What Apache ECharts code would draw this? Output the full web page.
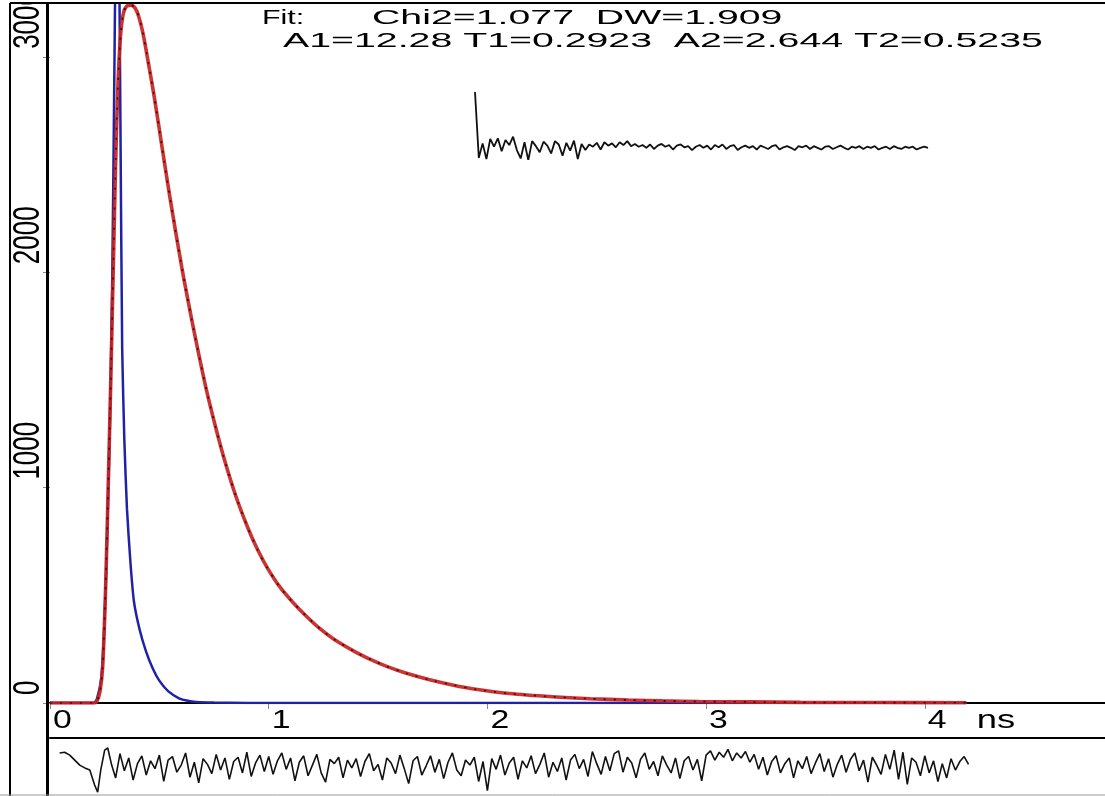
<!DOCTYPE html>
<html><head><meta charset="utf-8">
<script src="https://cdn.jsdelivr.net/npm/echarts@6/dist/echarts.min.js"></script>
<style>html,body{margin:0;padding:0;background:#fff}#c{width:1105px;height:796px}</style>
</head><body><div id="c"></div>
<script>
// ---- data ----
const decayTime   = [0,0.2,0.213,0.228,0.241,0.255,0.266,0.278,0.29,0.30,0.31,0.322,0.335,0.35,0.37,0.39,0.405,0.425,0.457,0.479,0.511,0.548,0.603,0.648,0.676,0.716,0.76,0.799,0.85,0.904,0.95,0.995,1.05,1.11,1.17,1.233,1.3,1.402,1.47,1.539,1.63,1.736,1.84,1.946,2.1,2.298,2.47,2.645,2.8,2.97,3.2,3.43,3.8,4.19];
const decayCounts = [0,0,5,50,170,560,1000,1500,2050,2500,2850,3090,3200,3235,3240,3225,3190,3110,2930,2800,2590,2350,2020,1780,1640,1450,1270,1125,960,815,710,625,540,468,405,346,295,234,200,170,138,108,84,64,44,29,20,14,10,7,5,3,2,1];
const irfTime   = [0,0.2,0.215,0.235,0.25,0.262,0.274,0.285,0.295,0.303,0.31,0.316,0.322,0.33,0.34,0.352,0.368,0.384,0.41,0.439,0.47,0.499,0.54,0.59,0.63,0.668,0.75,0.9,4.19];
const irfCounts = [0,0,20,120,400,800,1300,2000,3000,3800,3950,3500,2700,1650,1220,900,650,470,340,240,160,105,55,22,10,5,2,0,0];
const xTickValues = [0,1,2,3,4];
const yTickValues = [0,1000,2000,3000];
const resHeadTime = [0.044,0.067,0.09,0.113,0.136,0.159,0.182,0.204,0.218,0.232,0.25,0.264,0.282,0.30];
const resHead     = [1.9,2.0,1.6,0.9,0.2,-0.2,-0.5,-2.6,-3.6,-0.5,2.3,2.6,0.2,-1.6];
const resStart = 0.32, resStep = 0.02;
const resBody = [1.8,-0.6,1.2,-1.9,0.4,1.5,-1.2,0.8,-0.3,1.6,-2.1,0.9,1.4,-0.8,0.2,1.9,-1.5,0.6,-2.3,1.1,0.3,-1.0,1.7,-0.5,1.2,-1.8,0.7,1.3,-0.9,2.0,-1.4,0.5,1.6,-0.7,
 1.4,-1.1,0.8,1.9,-0.4,1.2,-2.0,0.6,1.5,-1.3,0.2,1.7,-0.9,-2.2,1.0,0.4,1.3,-1.6,0.9,-0.2,1.1,-1.4,0.7,1.8,-0.6,0.3,-1.9,1.2,0.5,-1.0,1.6,-0.3,-2.4,0.8,1.4,-1.2,0.1,1.5,-0.8,1.0,-1.7,0.6,1.9,-0.5,-1.3,0.9,0.2,1.3,-2.1,0.7,
 -3.4,1.1,-0.4,1.6,-1.2,0.5,1.3,-1.8,0.8,-0.2,1.5,-1.0,0.3,1.9,-1.5,0.6,-0.7,1.2,-1.9,0.9,1.7,-0.3,1.0,-1.4,2.1,0.4,-1.1,1.4,-0.6,1.8,2.2,-0.8,1.3,0.5,-1.6,1.0,1.9,-0.4,0.7,-1.3,1.5,0.2,-0.9,1.2,-1.7,0.8,1.4,-0.5,1.0,-2.0,
 1.6,2.2,0.9,2.0,1.3,2.4,0.8,1.9,1.2,2.1,0.6,1.7,-0.4,1.3,-1.2,0.7,1.5,-0.9,0.4,1.2,-1.6,0.8,-0.3,1.4,-1.0,0.5,1.8,-0.7,1.1,-1.5,0.3,1.6,-0.8,1.0,1.9,-0.6,0.9,-2.2,1.3,0.2,-1.1,1.7,-0.4,2.3,-1.8,2.0,-2.5,1.2,0.6,-1.3,1.5,-0.9,0.8,-2.1,0.4,-1.6,1.1,-0.5,0.7,1.4,0.3];
const acf = [1.0,-0.18,0.08,-0.2,0.16,0.02,0.17,-0.06,0.14,0.05,0.2,-0.04,-0.19,0.1,-0.22,0.12,0.03,-0.08,0.11,0.04,-0.1,0.12,0.06,-0.14,0.09,-0.05,0.13,-0.2,0.07,-0.04,
 0.06,0.02,0.09,-0.03,0.1,0.04,0.08,0.01,0.1,0.05,0.12,0.03,0.07,0.02,0.05,0.0,0.06,-0.02,0.04,0.07,0.02,0.05,-0.03,0.04,0.06,0.01,0.03,-0.04,0.02,0.05,
 0.0,0.04,-0.03,0.05,0.01,0.06,-0.02,0.03,0.05,-0.04,0.01,0.04,0.0,0.03,-0.03,0.04,0.01,-0.02,0.03,0.05,-0.03,0.01,0.03,0.0,-0.04,0.03,0.01,0.04,-0.02,0.03,
 0.0,-0.03,0.02,0.03,-0.02,0.01,0.04,0.0,-0.03,0.02,0.0,0.03,-0.02,0.02,0.0,0.03,-0.03,0.0,0.02,-0.02,0.03,0.0,-0.02,0.02,0.0,0.02,-0.03,0.0,0.02,0.0];
const fitTextA = 'Fit:';
const fitTextB = 'Chi2=1.077  DW=1.909';
const fitTextC = 'A1=12.28 T1=0.2923  A2=2.644 T2=0.5235';
const xUnit = 'ns';

// ---- build ----
const zip = (a, b) => a.map((v, i) => [v, b[i]]);
const resPairs = zip(resHeadTime, resHead).concat(resBody.map((v, i) => [resStart + i * resStep, v]));
const acfPairs = acf.map((v, i) => [i, v]);
const FONT = '"Liberation Sans", Arial, sans-serif';

const chart = echarts.init(document.getElementById('c'), null, {renderer: 'canvas'});
chart.setOption({
  animation: false,
  backgroundColor: '#fff',
  grid: [
    {left: 50, right: 0, top: 3, bottom: 93},
    {left: 50, right: 0, top: 738, bottom: 1},
    {left: 475, width: 453, top: 92, height: 67}
  ],
  xAxis: [
    {gridIndex: 0, type: 'value', min: 0, max: 4.824, interval: 1,
     axisLine: {onZero: false, lineStyle: {color: '#000', width: 2}},
     axisTick: {show: true, length: 6, lineStyle: {color: '#888'}},
     axisLabel: {show: false},
     splitLine: {show: false}},
    {gridIndex: 1, type: 'value', min: 0, max: 4.824, position: 'top',
     axisLine: {onZero: false, lineStyle: {color: '#000', width: 2}}, axisTick: {show: false}, axisLabel: {show: false}, splitLine: {show: false}},
    {gridIndex: 2, type: 'value', min: 0, max: 119, show: false}
  ],
  yAxis: [
    {gridIndex: 0, type: 'value', min: 0, max: 3250, interval: 1000, offset: 3,
     axisLine: {show: false},
     axisTick: {show: true, length: 7, lineStyle: {color: '#888'}},
     axisLabel: {show: false},
     splitLine: {show: false}},
    {gridIndex: 1, type: 'value', min: -4, max: 4, show: false},
    {gridIndex: 2, type: 'value', min: -0.2, max: 1, show: false}
  ],
  series: [
    {name: 'IRF', type: 'line', xAxisIndex: 0, yAxisIndex: 0, data: zip(irfTime, irfCounts),
     showSymbol: false, smooth: 0.2, lineStyle: {color: '#1f22a6', width: 2.5}, z: 2},
    {name: 'Fit', type: 'line', xAxisIndex: 0, yAxisIndex: 0, data: zip(decayTime, decayCounts),
     showSymbol: false, smooth: 0.3, lineStyle: {color: '#c82222', width: 3.6, opacity: 0.92}, z: 3},
    {name: 'Decay', type: 'line', xAxisIndex: 0, yAxisIndex: 0, data: zip(decayTime, decayCounts),
     showSymbol: false, smooth: 0.3, lineStyle: {color: '#3a0808', width: 1.6, type: [2, 8]}, z: 4},
    {name: 'Residuals', type: 'line', xAxisIndex: 1, yAxisIndex: 1, data: resPairs,
     showSymbol: false, lineStyle: {color: '#111', width: 1.6}},
    {name: 'Autocorrelation', type: 'line', xAxisIndex: 2, yAxisIndex: 2, data: acfPairs,
     showSymbol: false, lineStyle: {color: '#111', width: 1.8}}
  ]
});

// tick labels: stretched text placed at the axes' own pixel positions
const yLabels = yTickValues.map(v => ({
  type: 'text',
  x: 29,
  y: chart.convertToPixel({yAxisIndex: 0}, v) - 8,
  rotation: Math.PI / 2,
  scaleY: 1.45,
  style: {text: String(v), font: '26px ' + FONT, fill: '#000',
          align: 'left', verticalAlign: 'middle', textAlign: 'left', textVerticalAlign: 'middle'},
  z: 50
}));
const xLabels = xTickValues.map(v => ({
  type: 'text',
  x: chart.convertToPixel({xAxisIndex: 0}, v) + 3,
  y: 708,
  scaleX: 1.3,
  style: {text: String(v), font: '26px ' + FONT, fill: '#000',
          align: 'left', verticalAlign: 'top', textAlign: 'left', textVerticalAlign: 'top'},
  z: 50
}));
const unitX = chart.convertToPixel({xAxisIndex: 0}, xTickValues[xTickValues.length - 1]) + 52;
chart.setOption({
  graphic: [
    {type: 'line', shape: {x1: 10, y1: 3, x2: 10, y2: 796}, style: {stroke: '#000', lineWidth: 2}, z: 100},
    {type: 'line', shape: {x1: 10, y1: 3, x2: 1105, y2: 3}, style: {stroke: '#000', lineWidth: 2}, z: 100},
    {type: 'line', shape: {x1: 47.5, y1: 3, x2: 47.5, y2: 796}, style: {stroke: '#000', lineWidth: 3}, z: 100},
    {type: 'line', shape: {x1: 0, y1: 795, x2: 1105, y2: 795}, style: {stroke: '#999', lineWidth: 1}, z: 100},
    {type: 'rect', shape: {x: 0, y: 0, width: 1105, height: 2}, style: {fill: '#fff'}, z: 99},
    {type: 'text', x: unitX, y: 708, scaleX: 1.4,
     style: {text: xUnit, font: '26px ' + FONT, fill: '#000', align: 'left', verticalAlign: 'top', textAlign: 'left', textVerticalAlign: 'top'}, z: 50},
    {type: 'text', x: 262, y: 8, scaleX: 1.45, style: {text: fitTextA, font: '21px ' + FONT, fill: '#000'}, z: 100},
    {type: 'text', x: 372, y: 8, scaleX: 1.87, style: {text: fitTextB, font: '21px ' + FONT, fill: '#000'}, z: 100},
    {type: 'text', x: 283, y: 31, scaleX: 1.87, style: {text: fitTextC, font: '21px ' + FONT, fill: '#000'}, z: 100}
  ].concat(yLabels, xLabels)
});
</script></body></html>
